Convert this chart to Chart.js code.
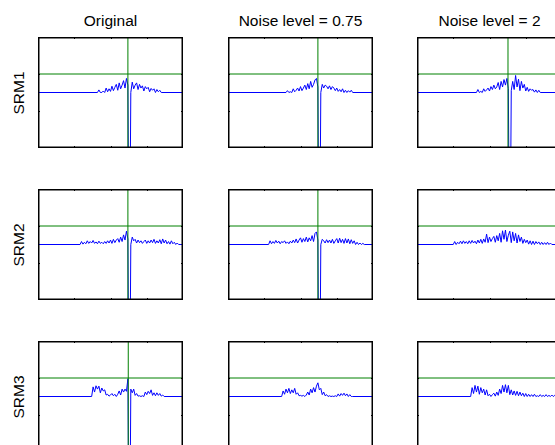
<!DOCTYPE html>
<html>
<head>
<meta charset="utf-8">
<script src="https://cdn.jsdelivr.net/npm/chart.js@4.4.0/dist/chart.umd.min.js"></script>
<style>
	html, body { margin: 0; padding: 0; background: #fff; }
	body { width: 555px; height: 445px; overflow: hidden; position: relative; font-family: 'Liberation Sans', Arial, sans-serif; }
	canvas { position: absolute; }
	.title { position: absolute; font-size: 15.5px; line-height: 16px; color: #000; white-space: nowrap; transform: translateX(-50%); }
	.rowLabel { position: absolute; font-size: 15.5px; line-height: 16px; color: #000; white-space: nowrap; transform: translate(-50%, -50%) rotate(-90deg); }
</style>
</head>
<body>
<script>
const columnTitles = ['Original', 'Noise level = 0.75', 'Noise level = 2']
const rowLabels = ['SRM1', 'SRM2', 'SRM3']

const xRange = [0, 400]
const yRange = [-1.5, 1.5]
const xTicks = [100, 200, 300]
const yTicks = [-0.5, 0.5]
const threshold = 0.5
const step = 4

// where each ripple starts (x), values follow every `step`
const rippleStart = [
	[164, 160, 164],
	[116, 112, 100],
	[148, 148, 148],
]

// vertical green marker, null where there is none
const eventTimes = [
	[248, 248, 251],
	[248, 248, null],
	[249, null, null],
]

const srm1Original = [0, 0.07, 0, 0, 0.04, 0, 0.12, 0.02, 0.1, 0.03, 0.17, 0.05, 0.14, 0.22, 0.06, 0.26, 0.1, 0.2, 0.32, 0.12, 0.38, 0.2, -6, 0, 0.28, 0.1, 0.2, 0.26, 0.08, 0.22, 0.12, 0.18, 0.04, 0.16, 0.1, 0.14, 0.02, 0.11, 0.06, 0.1, 0, 0.08, 0.02, 0.06, 0]
const srm1Noise075 = [0, 0.05, 0, 0.02, 0, 0.1, 0.02, 0.06, 0.12, 0.04, 0.16, 0.05, 0.12, 0.2, 0.08, 0.24, 0.1, 0.3, 0.14, 0.22, 0.34, 0.38, 0.15, -6, 0, 0.22, 0.12, 0.2, 0.17, 0.1, 0.18, 0.08, 0.16, 0.12, 0.05, 0.12, 0.03, 0.08, 0.02, 0.1, 0, 0.06, 0, 0.05, 0.01, 0.06, 0]
const srm1Noise2 = [0, 0.08, 0, 0.03, 0, 0.1, 0.03, 0.07, 0.12, 0.04, 0.16, 0.08, 0.2, 0.1, 0.15, 0.27, 0.08, 0.3, 0.15, 0.35, 0.2, 0.38, 0.1, -6, 0.05, 0.3, 0.08, 0.46, 0.15, 0.36, 0.05, 0.3, 0.12, 0.22, 0.04, 0.14, 0.03, 0.1, 0.06, 0.08, 0.01, 0.07, 0, 0.06, 0]

const srm2Original = [0, 0.08, 0.01, 0.06, 0.02, 0.1, 0.03, 0.08, 0.04, 0.11, 0.03, 0.07, 0.02, 0.09, 0.03, 0.06, 0.02, 0.08, 0.03, 0.1, 0.04, 0.12, 0.03, 0.14, 0.05, 0.12, 0.16, 0.06, 0.2, 0.08, 0.26, 0.12, 0.36, 0.15, -6, 0, 0.2, 0.1, 0.14, 0.04, 0.12, 0.05, 0.1, 0.03, 0.08, 0.12, 0.03, 0.1, 0.04, 0.12, 0.05, 0.14, 0.03, 0.1, 0.04, 0.13, 0.02, 0.15, 0.04, 0.12, 0.02, 0.08, 0.01, 0.1, 0.02, 0.06, 0, 0.04, 0, 0]
const srm2Noise075 = [0, 0.1, 0.02, 0.08, 0.03, 0.11, 0.04, 0.09, 0.02, 0.08, 0.05, 0.1, 0.03, 0.07, 0.02, 0.09, 0.04, 0.12, 0.05, 0.15, 0.04, 0.12, 0.18, 0.06, 0.16, 0.08, 0.2, 0.07, 0.18, 0.1, 0.24, 0.08, 0.3, 0.34, 0.12, -6, 0, 0.14, 0.1, 0.04, 0.13, 0.05, 0.12, 0.04, 0.14, 0.03, 0.1, 0.16, 0.04, 0.17, 0.05, 0.14, 0.03, 0.16, 0.04, 0.15, 0.02, 0.13, 0.03, 0.1, 0, 0.06, 0, 0.04, 0, 0.03, 0]
const srm2Noise2 = [0, 0.08, 0, 0.06, 0.02, 0.09, 0.02, 0.1, 0.03, 0.08, 0.02, 0.1, 0.03, 0.11, 0.04, 0.09, 0.02, 0.12, 0.04, 0.14, 0.03, 0.15, 0.06, 0.28, 0.05, 0.2, 0.08, 0.16, 0.22, 0.06, 0.24, 0.1, 0.3, 0.06, 0.37, 0.14, 0.39, 0.08, 0.25, 0.36, 0.05, 0.34, 0.1, 0.3, 0.04, 0.26, 0.08, 0.2, 0.03, 0.14, 0.05, 0.12, 0.01, 0.1, 0, 0.09, 0, 0.08, 0.02, 0.07, 0, 0.06, 0, 0.05, 0, 0.06, 0, 0.04, 0]

const srm3Original = [0, 0.26, 0.12, 0.29, 0.2, 0.28, 0.1, 0.23, 0.15, 0.18, 0.04, 0.06, 0.01, 0.04, 0.08, 0.02, 0.06, 0, 0.06, 0.15, 0.04, 0.2, 0.12, 0.2, 0.14, 0.48, -6, 0.2, 0.1, 0.2, 0.03, 0.08, 0.01, 0.02, 0, 0.02, 0, 0.12, 0.05, 0.14, 0.08, 0.18, 0.03, 0.1, 0.02, 0.1, 0.03, 0.08, 0.01, 0.04, 0]
const srm3Noise075 = [0, 0.15, 0.06, 0.2, 0.1, 0.22, 0.08, 0.18, 0.1, 0.22, 0.06, 0.1, 0.02, 0.03, 0.01, 0.03, 0, 0.04, 0.12, 0.04, 0.2, 0.1, 0.24, 0.12, 0.28, 0.37, 0.18, 0.22, 0.05, 0.12, 0.02, 0.05, 0, 0.02, 0, 0.01, 0, 0.02, 0, 0.07, 0.01, 0.08, 0.03, 0.09, 0.02, 0.07, 0, 0.05, 0, 0]
const srm3Noise2 = [0, 0.24, 0.08, 0.3, 0.12, 0.28, 0.06, 0.24, 0.1, 0.2, 0.04, 0.18, 0.02, 0.06, 0, 0.05, 0.09, 0.01, 0.12, 0.03, 0.2, 0.08, 0.3, 0.12, 0.32, 0.1, 0.3, 0.05, 0.18, 0.04, 0.15, 0.03, 0.14, 0.02, 0.12, 0.02, 0.09, 0, 0.08, 0, 0.06, 0, 0.05, 0, 0.06, 0, 0.02, 0, 0.05, 0, 0.03, 0, 0.05, 0, 0.03, 0, 0.04, 0, 0.03, 0]

const series = [
	[srm1Original, srm1Noise075, srm1Noise2],
	[srm2Original, srm2Noise075, srm2Noise2],
	[srm3Original, srm3Noise075, srm3Noise2],
]

// panel placement
const colLeft = [38, 228, 417]
const rowTop = [37, 189, 341]
const panelW = 145
const panelH = 111
const pad = 4

const buildPoints = (start, values) => {
	const pts = [{ x: xRange[0], y: 0 }]
	values.forEach((v, i) => pts.push({ x: start + i * step, y: v }))
	pts.push({ x: xRange[1], y: 0 })
	return pts
}

const boxPlugin = {
	id: 'box',
	afterDatasetsDraw(chart) {
		const { ctx, chartArea: a, scales } = chart
		ctx.save()
		ctx.strokeStyle = '#000'
		ctx.lineWidth = 1
		ctx.beginPath()
		xTicks.forEach(t => {
			const px = Math.round(scales.x.getPixelForValue(t)) + 0.5
			ctx.moveTo(px, a.top); ctx.lineTo(px, a.top + 2)
			ctx.moveTo(px, a.bottom); ctx.lineTo(px, a.bottom - 2)
		})
		yTicks.forEach(t => {
			const py = Math.round(scales.y.getPixelForValue(t)) + 0.5
			ctx.moveTo(a.left, py); ctx.lineTo(a.left + 2, py)
			ctx.moveTo(a.right, py); ctx.lineTo(a.right - 2, py)
		})
		ctx.stroke()
		ctx.lineWidth = 1.5
		ctx.strokeRect(a.left + 0.75, a.top + 0.75, a.right - a.left - 1.5, a.bottom - a.top - 1.5)
		ctx.restore()
	},
}

const addText = (cls, text, left, top) => {
	const d = document.createElement('div')
	d.className = cls
	d.textContent = text
	d.style.left = left + 'px'
	d.style.top = top + 'px'
	document.body.appendChild(d)
}

columnTitles.forEach((t, c) => addText('title', t, colLeft[c] + panelW / 2, 13))
rowLabels.forEach((t, r) => addText('rowLabel', t, 19, rowTop[r] + panelH / 2))

for (let r = 0; r < 3; r++) {
	for (let c = 0; c < 3; c++) {
		const canvas = document.createElement('canvas')
		canvas.width = panelW + pad * 2
		canvas.height = panelH + pad * 2
		canvas.style.left = colLeft[c] - pad + 'px'
		canvas.style.top = rowTop[r] - pad + 'px'
		document.body.appendChild(canvas)

		const datasets = [
			{
				data: buildPoints(rippleStart[r][c], series[r][c]),
				borderColor: '#0000ff',
				borderWidth: 1,
				order: 2,
			},
			{
				data: [{ x: xRange[0], y: threshold }, { x: xRange[1], y: threshold }],
				borderColor: '#008000',
				borderWidth: 1,
				order: 1,
			},
		]
		if (eventTimes[r][c] !== null) {
			datasets.push({
				data: [{ x: eventTimes[r][c], y: yRange[0] - 1 }, { x: eventTimes[r][c], y: yRange[1] + 1 }],
				borderColor: '#008000',
				borderWidth: 1,
				order: 1,
			})
		}

		new Chart(canvas, {
			type: 'line',
			data: { datasets },
			options: {
				responsive: false,
				animation: false,
				events: [],
				layout: { padding: pad },
				elements: { point: { radius: 0 }, line: { tension: 0 } },
				plugins: { legend: { display: false }, tooltip: { enabled: false } },
				scales: {
					x: { type: 'linear', min: xRange[0], max: xRange[1], display: false },
					y: { type: 'linear', min: yRange[0], max: yRange[1], display: false },
				},
			},
			plugins: [boxPlugin],
		})
	}
}
</script>
</body>
</html>
